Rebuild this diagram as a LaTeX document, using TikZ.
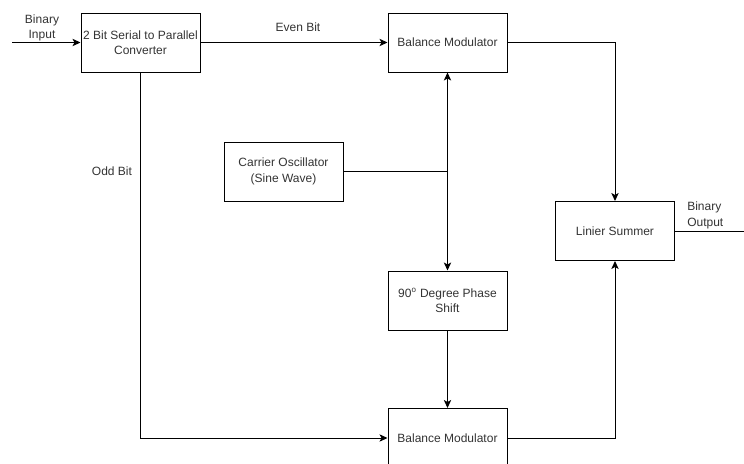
\documentclass[tikz,border=0pt]{standalone}
\usepackage{fontspec}
\setmainfont{Liberation Sans}
\usepackage{xcolor}
\usetikzlibrary{arrows.meta}

\definecolor{txtgray}{HTML}{333333}

\begin{document}
\begin{tikzpicture}[x=0.75pt,y=0.75pt,yscale=-1,xscale=1,
  font=\fontsize{9}{11.5}\selectfont,
  blk/.style={draw, line width=0.75pt, minimum width=89.25pt, minimum height=44.25pt, align=center, text=txtgray, inner sep=0.75pt},
  lbl/.style={text=txtgray, inner sep=0.75pt, align=center},
  conn/.style={line width=0.75pt, -{Stealth[length=6pt,width=5.5pt,inset=1.5pt]}},
  wire/.style={line width=0.75pt}]
\clip (0,0) rectangle (744,464);

%Shape: Rectangle [converter]
\node [blk] (conv) at (140.5,42.5) {2 Bit Serial to Parallel\\Converter};
%Shape: Rectangle [upper modulator]
\node [blk] (bmtop) at (447.5,42.5) {Balance Modulator};
%Shape: Rectangle [carrier]
\node [blk] (carrier) at (283.5,171.5) {Carrier Oscillator\\(Sine Wave)};
%Shape: Rectangle [phase shift]
\node [blk] (phase) at (447.5,300.5) {90\textsuperscript{o} Degree Phase\\Shift};
%Shape: Rectangle [lower modulator]
\node [blk] (bmbot) at (447.5,438) {Balance Modulator};
%Shape: Rectangle [summer]
\node [blk] (summer) at (615,231) {Linier Summer};

%Points
\coordinate (in) at (12,42.5);
\coordinate (out) at (744,231);
\coordinate (split) at (447.5,171.5);

%Straight Lines
\draw [conn] (in) -- (conv.west);
\draw [conn] (conv.east) -- (bmtop.west);
\draw [conn] (conv.south) |- (bmbot.west);
\draw [wire] (carrier.east) -- (split);
\draw [conn] (split) -- (bmtop.south);
\draw [conn] (split) -- (phase.north);
\draw [conn] (phase.south) -- (bmbot.north);
\draw [conn] (bmtop.east) -| (summer.north);
\draw [conn] (bmbot.east) -| (summer.south);
\draw [wire] (summer.east) -- (out);

% Text Node
\node [lbl] (inlbl) at (42,28) {Binary\\Input};
% Text Node
\node [lbl] (evenlbl) at (298,27) {Even Bit};
% Text Node
\node [lbl] (oddlbl) at (112,171) {Odd Bit};
% Text Node
\node [lbl, anchor=north west, align=left] (outlbl) at (686,201) {Binary\\Output};

\end{tikzpicture}
\end{document}
